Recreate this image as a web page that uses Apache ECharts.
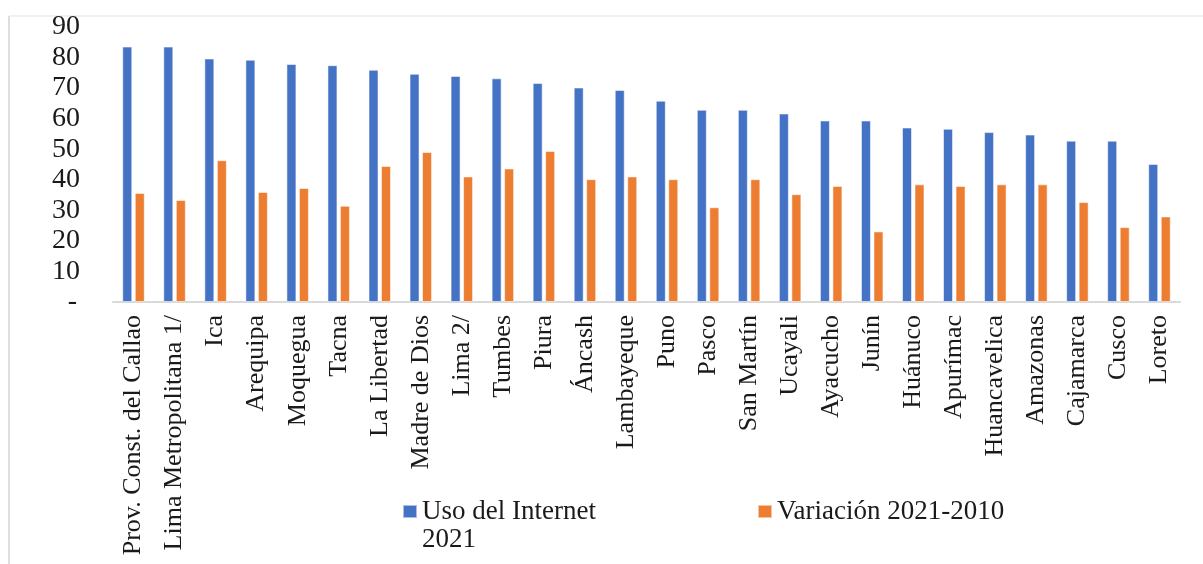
<!DOCTYPE html>
<html>
<head>
<meta charset="utf-8">
<script src="https://cdn.jsdelivr.net/npm/echarts@6/dist/echarts.min.js"></script>
<style>
  html, body { margin: 0; padding: 0; background: #ffffff; }
  #chart { width: 1203px; height: 564px; }
</style>
</head>
<body>
<div id="chart"></div>
<script>
// Regions of Peru, ordered by internet use in 2021
const regiones = [
  'Prov. Const. del Callao', 'Lima Metropolitana 1/', 'Ica', 'Arequipa', 'Moquegua',
  'Tacna', 'La Libertad', 'Madre de Dios', 'Lima 2/', 'Tumbes', 'Piura', 'Áncash',
  'Lambayeque', 'Puno', 'Pasco', 'San Martín', 'Ucayali', 'Ayacucho', 'Junín',
  'Huánuco', 'Apurímac', 'Huancavelica', 'Amazonas', 'Cajamarca', 'Cusco', 'Loreto'
];

// Uso del Internet 2021 (%)
const usoInternet2021 = [
  83.6, 83.6, 79.7, 79.3, 77.9, 77.5, 76.0, 74.7, 74.0, 73.2, 71.7, 70.2, 69.4,
  65.9, 62.9, 62.9, 61.7, 59.4, 59.4, 57.1, 56.7, 55.6, 54.8, 52.8, 52.8, 45.2
];

// Variación 2021-2010 (puntos porcentuales)
const variacion2021_2010 = [
  35.7, 33.4, 46.4, 36.0, 37.3, 31.5, 44.5, 49.1, 41.1, 43.7, 49.4, 40.2, 41.1,
  40.2, 31.0, 40.2, 35.3, 38.0, 23.1, 38.5, 38.0, 38.5, 38.5, 32.7, 24.5, 28.0
];

const serieNombres = ['Uso del Internet 2021', 'Variación 2021-2010'];
const ejeY = { min: 0, max: 90, interval: 10 };

const FONT = '"Liberation Serif", "DejaVu Serif", serif';
const TEXT = '#1a1a1a';

const chart = echarts.init(document.getElementById('chart'), null, { renderer: 'canvas' });

chart.setOption({
  backgroundColor: '#ffffff',
  animation: false,
  color: ['#4472C4', '#ED7D31'],
  graphic: [
    { type: 'line', shape: { x1: 9, y1: 16, x2: 1203, y2: 16 },
      style: { stroke: '#ececec', lineWidth: 1.5 }, silent: true },
    { type: 'line', shape: { x1: 9, y1: 16, x2: 9, y2: 564 },
      style: { stroke: '#dedede', lineWidth: 2 }, silent: true }
  ],
  grid: { left: 113, right: 23, top: 27, height: 275, containLabel: false },
  legend: [
    {
      // blank first line keeps the icon level with "Uso del Internet"
      data: [serieNombres[0]],
      left: 402, top: 469.5, padding: 0,
      itemWidth: 14, itemHeight: 13, itemGap: 0,
      icon: 'rect',
      formatter: function () { return '\u00a0\nUso del Internet\n2021'; },
      textStyle: { fontFamily: FONT, fontSize: 27, color: TEXT, lineHeight: 28 }
    },
    {
      data: [serieNombres[1]],
      left: 757, top: 497.5, padding: 0,
      itemWidth: 14, itemHeight: 13,
      icon: 'rect',
      textStyle: { fontFamily: FONT, fontSize: 27, color: TEXT, lineHeight: 28 }
    }
  ],
  xAxis: {
    type: 'category',
    data: regiones,
    axisLine: { show: true, lineStyle: { color: '#d9d9d9', width: 2 } },
    axisTick: { show: false },
    axisLabel: {
      interval: 0, rotate: 90, margin: 13,
      fontFamily: FONT, fontSize: 26, color: TEXT
    },
    splitLine: { show: false }
  },
  yAxis: {
    type: 'value',
    min: ejeY.min, max: ejeY.max, interval: ejeY.interval,
    axisLine: { show: false },
    axisTick: { show: false },
    splitLine: { show: false },
    axisLabel: {
      margin: 33,
      fontFamily: FONT, fontSize: 28, color: TEXT,
      formatter: function (v) { return v === 0 ? '{d|-}' : String(v); },
      rich: { d: { fontFamily: FONT, fontSize: 28, color: TEXT, padding: [0, 3, 0, 0] } }
    }
  },
  series: [
    {
      name: serieNombres[0], type: 'bar', data: usoInternet2021,
      barWidth: 10, barGap: '25%',
      itemStyle: { borderColor: 'rgba(255,255,255,0.55)', borderWidth: 1 }
    },
    {
      name: serieNombres[1], type: 'bar', data: variacion2021_2010,
      barWidth: 10, barGap: '25%',
      itemStyle: { borderColor: 'rgba(255,255,255,0.55)', borderWidth: 1 }
    }
  ]
});
</script>
</body>
</html>
